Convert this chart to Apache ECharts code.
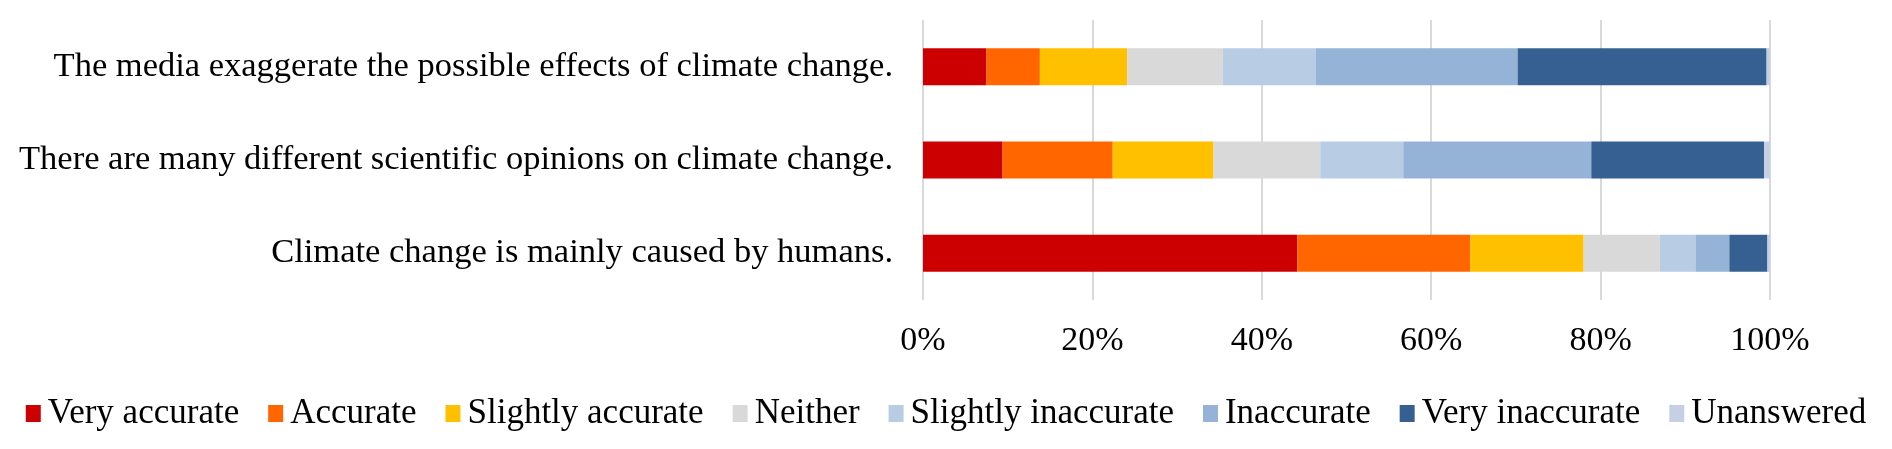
<!DOCTYPE html>
<html>
<head>
<meta charset="utf-8">
<script src="https://cdn.jsdelivr.net/npm/echarts@6/dist/echarts.min.js"></script>
<style>
html,body{margin:0;padding:0;background:#fff;}
#chart{width:1892px;height:449px;}
</style>
</head>
<body>
<div id="chart"></div>
<script>
const categories = [
  "The media exaggerate the possible effects of climate change.",
  "There are many different scientific opinions on climate change.",
  "Climate change is mainly caused by humans."
];
const seriesNames = ["Very accurate","Accurate","Slightly accurate","Neither","Slightly inaccurate","Inaccurate","Very inaccurate","Unanswered"];
const veryAccurate      = [7.5, 9.4, 44.2];
const accurate          = [6.3, 13.0, 20.4];
const slightlyAccurate  = [10.3, 11.9, 13.4];
const neither           = [11.3, 12.6, 9.0];
const slightlyInaccurate= [11.0, 9.8, 4.2];
const inaccurate        = [23.8, 22.2, 4.0];
const veryInaccurate    = [29.4, 20.4, 4.5];
const unanswered        = [0.4, 0.7, 0.3];
const seriesValues = [veryAccurate, accurate, slightlyAccurate, neither, slightlyInaccurate, inaccurate, veryInaccurate, unanswered];
const colors = ["#CC0000","#FF6600","#FFC000","#D9D9D9","#B8CCE4","#95B3D7","#366092","#C6D0E4"];

const FONT = '"Liberation Serif","Times New Roman",serif';
const chart = echarts.init(document.getElementById('chart'));
chart.setOption({
  animation: false,
  textStyle: {fontFamily: FONT},
  grid: {left: 923, right: 122, top: 20, bottom: 149, containLabel: false},
  legend: {
    data: seriesNames,
    left: 'center',
    top: 391,
    icon: 'rect',
    itemWidth: 15,
    itemHeight: 17,
    itemGap: 29,
    textStyle: {fontFamily: FONT, fontSize: 35, color: '#000', padding: [0,0,0,2]}
  },
  xAxis: {
    type: 'value',
    min: 0, max: 100, interval: 20,
    axisLine: {show: false},
    axisTick: {show: false},
    axisLabel: {formatter: '{value}%', fontFamily: FONT, fontSize: 34, color: '#000', margin: 24},
    splitLine: {show: true, lineStyle: {color: '#d9d9d9', width: 2}}
  },
  yAxis: {
    type: 'category',
    inverse: true,
    data: categories,
    axisLine: {show: false},
    axisTick: {show: false},
    axisLabel: {fontFamily: FONT, fontSize: 34.5, color: '#000', margin: 30}
  },
  series: seriesNames.map((n, i) => ({
    name: n,
    type: 'bar',
    stack: 'total',
    barWidth: 37,
    data: seriesValues[i],
    itemStyle: {color: colors[i]}
  }))
});
</script>
</body>
</html>
